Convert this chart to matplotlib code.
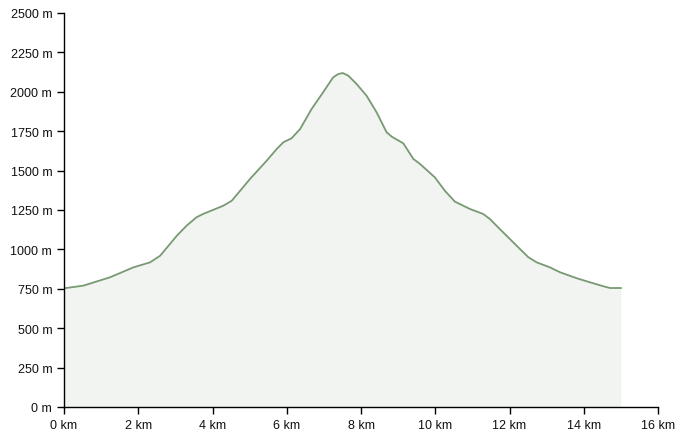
import matplotlib
matplotlib.use("Agg")
import matplotlib.pyplot as plt
from matplotlib.ticker import FuncFormatter

# Elevation profile
distance_km = [0.0, 0.52, 1.24, 1.87, 2.32, 2.59, 3.04, 3.30, 3.57, 3.75, 4.29, 4.52,
               5.01, 5.46, 5.73, 5.91, 6.13, 6.36, 6.67, 6.98, 7.25, 7.39, 7.51, 7.66,
               7.88, 8.15, 8.42, 8.69, 8.83, 9.14, 9.41, 9.59, 9.99, 10.26, 10.53,
               10.94, 11.29, 11.47, 11.74, 12.01, 12.28, 12.51, 12.73, 13.09, 13.36,
               13.81, 14.17, 14.53, 14.71, 15.0]
elevation_m = [753, 770, 823, 886, 918, 960, 1087, 1150, 1204, 1225, 1277, 1309,
               1447, 1563, 1637, 1680, 1705, 1764, 1891, 1997, 2092, 2113, 2119, 2102,
               2050, 1975, 1870, 1743, 1715, 1673, 1574, 1542, 1457, 1372, 1303,
               1256, 1225, 1193, 1129, 1066, 1003, 950, 918, 886, 855,
               817, 791, 766, 755, 755]

x_ticks = [0, 2, 4, 6, 8, 10, 12, 14, 16]
y_ticks = [0, 250, 500, 750, 1000, 1250, 1500, 1750, 2000, 2250, 2500]

plt.rcParams["font.family"] = ["Liberation Sans", "DejaVu Sans"]

fig = plt.figure(figsize=(6.86, 4.39), dpi=100)
ax = fig.add_axes([64 / 686, 31 / 439, 594 / 686, 394 / 439])

ax.fill_between(distance_km, elevation_m, 0, color="#f1f4f0", linewidth=0)
ax.plot(distance_km, elevation_m, color="#789a73", linewidth=1.3,
        solid_joinstyle="round")

ax.set_xlim(0, 16)
ax.set_ylim(0, 2500)
ax.set_xticks(x_ticks)
ax.set_yticks(y_ticks)
ax.xaxis.set_major_formatter(FuncFormatter(lambda v, p: f"{int(v)} km"))
ax.yaxis.set_major_formatter(FuncFormatter(lambda v, p: f"{int(v)} m"))
ax.tick_params(labelsize=9, length=5, width=1, color="black", labelcolor="#111111")

for side in ["top", "right"]:
    ax.spines[side].set_visible(False)
for side in ["left", "bottom"]:
    ax.spines[side].set_linewidth(1)

fig.savefig("out.png", dpi=100)
